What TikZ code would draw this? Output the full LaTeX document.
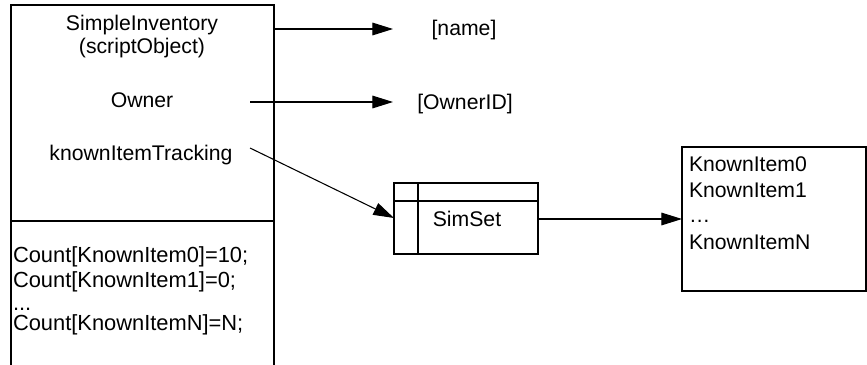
\documentclass[tikz,border=0pt]{standalone}
\usepackage{fontspec}
\setmainfont{Liberation Sans}
\usetikzlibrary{arrows.meta}
\begin{document}
\begin{tikzpicture}[x=0.75pt,y=-0.75pt,
  line width=0.8pt,
  every node/.style={font=\fontsize{15.9}{18}\selectfont, inner sep=0pt, outer sep=0pt},
  lbl/.style={anchor=base},
  lbll/.style={anchor=base west},
  code/.style={anchor=base west, font=\fontsize{16.4}{19}\selectfont},
  box/.style={draw, anchor=north west},
  link/.style={-{Triangle[length=15.5pt,width=9.5pt]}}
]
\useasboundingbox (0,0) rectangle (867,364);

% inventory object (extends past the lower edge)
\node[box, minimum width=263*0.75pt, minimum height=362*0.75pt] (inv) at (11,5) {};
\coordinate (divL) at (11,221);
\coordinate (divR) at (274,221);
\draw (divL) -- (divR);

\node[lbl] (title) at (142,30) {SimpleInventory};
\node[lbl] (kind) at (142,53) {(scriptObject)};
\node[lbl] (owner) at (142,107) {Owner};
\node[lbl] (track) at (141,160) {knownItemTracking};

\node[code] (c0) at (13,262) {Count[KnownItem0]=10;};
\node[code] (c1) at (13,287) {Count[KnownItem1]=0;};
\node[code] (cd) at (13,310) {...};
\node[code] (cn) at (13,330) {Count[KnownItemN]=N;};

% referenced values
\node[lbl] (name) at (464,35) {[name]};
\node[lbl] (ownerid) at (465,109) {[OwnerID]};

% SimSet record
\node[box, minimum width=144*0.75pt, minimum height=71*0.75pt] (simset) at (394,183) {};
\coordinate (vtop) at (418,183);
\coordinate (vbot) at (418,254);
\coordinate (hl) at (394,201);
\coordinate (hr) at (538,201);
\draw (vtop) -- (vbot);
\draw (hl) -- (hr);
\node[lbl] (simlabel) at (467,226) {SimSet};

% known item list
\node[box, minimum width=184*0.75pt, minimum height=144*0.75pt] (items) at (682,147) {};
\node[lbll] (k0) at (689,171) {KnownItem0};
\node[lbll] (k1) at (689,197) {KnownItem1};
\node[lbll] (kd) at (689,222) {…};
\node[lbll] (kn) at (689,249) {KnownItemN};

% connectors
\coordinate (nameS) at (274,29);
\coordinate (nameE) at (393,29);
\coordinate (ownS) at (250,102);
\coordinate (ownE) at (393,102);
\coordinate (trkS) at (250,148);
\coordinate (simIn) at (394,218);
\coordinate (simOut) at (538,219);
\coordinate (itemsIn) at (682,219);
\draw[link] (nameS) -- (nameE);
\draw[link] (ownS) -- (ownE);
\draw[link] (trkS) -- (simIn);
\draw[link] (simOut) -- (itemsIn);
\end{tikzpicture}
\end{document}
